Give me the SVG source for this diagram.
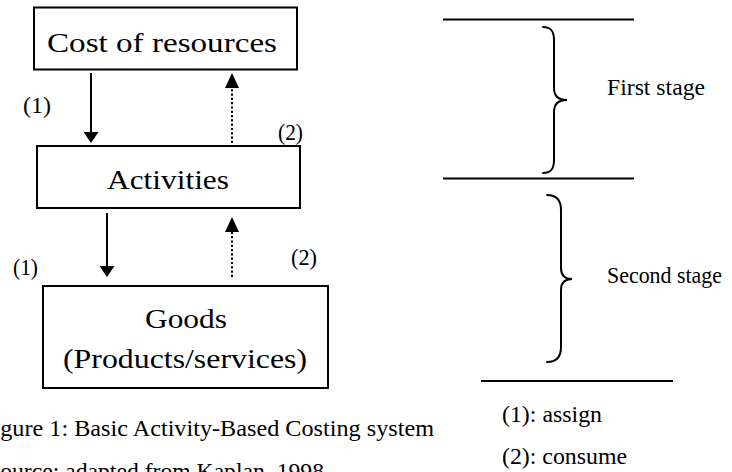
<svg xmlns="http://www.w3.org/2000/svg" width="732" height="472" viewBox="0 0 732 472">
  <style>
    .box { fill: #ffffff; stroke: #000000; stroke-width: 2; }
    .big { font-family: "Liberation Serif", "Times New Roman", Times, serif; font-size: 28px; fill: #000000; }
    .small { font-family: "Liberation Serif", "Times New Roman", Times, serif; font-size: 23px; fill: #000000; }
    .rule { stroke: #000000; stroke-width: 2; fill: none; }
    .brace { stroke: #000000; stroke-width: 2; fill: none; stroke-linecap: round; }
    .solid { stroke: #000000; stroke-width: 2; fill: none; marker-end: url(#head); }
    .dotted { stroke: #000000; stroke-width: 2; fill: none; stroke-dasharray: 2.2 2.1; marker-end: url(#headTall); }
  </style>
  <defs>
    <marker id="head" viewBox="0 0 11 15" refX="0" refY="7.5" markerWidth="11" markerHeight="15" orient="auto" markerUnits="userSpaceOnUse">
      <path d="M0,0 L11,7.5 L0,15 Z" fill="#000000"/>
    </marker>
    <marker id="headTall" viewBox="0 0 15 14" refX="0" refY="7" markerWidth="15" markerHeight="14" orient="auto" markerUnits="userSpaceOnUse">
      <path d="M0,0 L15,7 L0,14 Z" fill="#000000"/>
    </marker>
  </defs>

  <rect width="732" height="472" fill="#ffffff"/>

  <!-- Nodes -->
  <g id="cost-of-resources">
    <rect class="box" x="34" y="7.5" width="263" height="62"/>
    <text class="big" x="47" y="52" textLength="230" lengthAdjust="spacingAndGlyphs">Cost of resources</text>
  </g>
  <g id="activities">
    <rect class="box" x="37" y="146" width="263" height="62"/>
    <text class="big" x="107" y="189" textLength="122" lengthAdjust="spacingAndGlyphs">Activities</text>
  </g>
  <g id="goods">
    <rect class="box" x="43" y="286" width="285" height="102"/>
    <text class="big" x="145" y="328" textLength="82" lengthAdjust="spacingAndGlyphs">Goods</text>
    <text class="big" x="63" y="368" textLength="244" lengthAdjust="spacingAndGlyphs">(Products/services)</text>
  </g>

  <!-- Connectors -->
  <g id="connectors">
    <line class="solid" x1="91" y1="73" x2="91" y2="132"/>
    <line class="dotted" x1="232" y1="143" x2="232" y2="88"/>
    <line class="solid" x1="107" y1="213" x2="107" y2="266"/>
    <line class="dotted" x1="232" y1="277" x2="232" y2="232"/>
  </g>

  <!-- Connector labels -->
  <g id="connector-labels">
    <text class="small" x="23" y="113" textLength="28" lengthAdjust="spacingAndGlyphs">(1)</text>
    <text class="small" x="278" y="140" textLength="25" lengthAdjust="spacingAndGlyphs">(2)</text>
    <text class="small" x="13" y="275" textLength="25" lengthAdjust="spacingAndGlyphs">(1)</text>
    <text class="small" x="291" y="265" textLength="26" lengthAdjust="spacingAndGlyphs">(2)</text>
  </g>

  <!-- Caption -->
  <g id="caption">
    <text class="small" x="-20" y="436" textLength="454" lengthAdjust="spacingAndGlyphs">Figure 1: Basic Activity-Based Costing system</text>
    <text class="small" x="-13" y="479" textLength="337" lengthAdjust="spacingAndGlyphs">Source: adapted from Kaplan, 1998</text>
  </g>

  <!-- Stage scale -->
  <g id="stages">
    <line class="rule" x1="443" y1="19.5" x2="634" y2="19.5"/>
    <line class="rule" x1="443" y1="178.5" x2="634" y2="178.5"/>
    <line class="rule" x1="481" y1="381" x2="673" y2="381"/>
    <path class="brace" d="M543,27 C551,27 554,31 554,40 L554,88 C554,96 558,100 567,100 C558,100 554,104 554,112 L554,160 C554,169 551,173 543,173"/>
    <path class="brace" d="M547,195 C556,195 561,200 561,210 L561,268 C561,275 565,279 572,279 C565,279 561,283 561,290 L561,347 C561,357 556,362 547,362"/>
    <text class="small" x="607" y="95" textLength="98" lengthAdjust="spacingAndGlyphs">First stage</text>
    <text class="small" x="607" y="283" textLength="115" lengthAdjust="spacingAndGlyphs">Second stage</text>
  </g>

  <!-- Legend -->
  <g id="legend">
    <text class="small" x="502" y="422" textLength="100" lengthAdjust="spacingAndGlyphs">(1): assign</text>
    <text class="small" x="502" y="464" textLength="125" lengthAdjust="spacingAndGlyphs">(2): consume</text>
  </g>
</svg>
